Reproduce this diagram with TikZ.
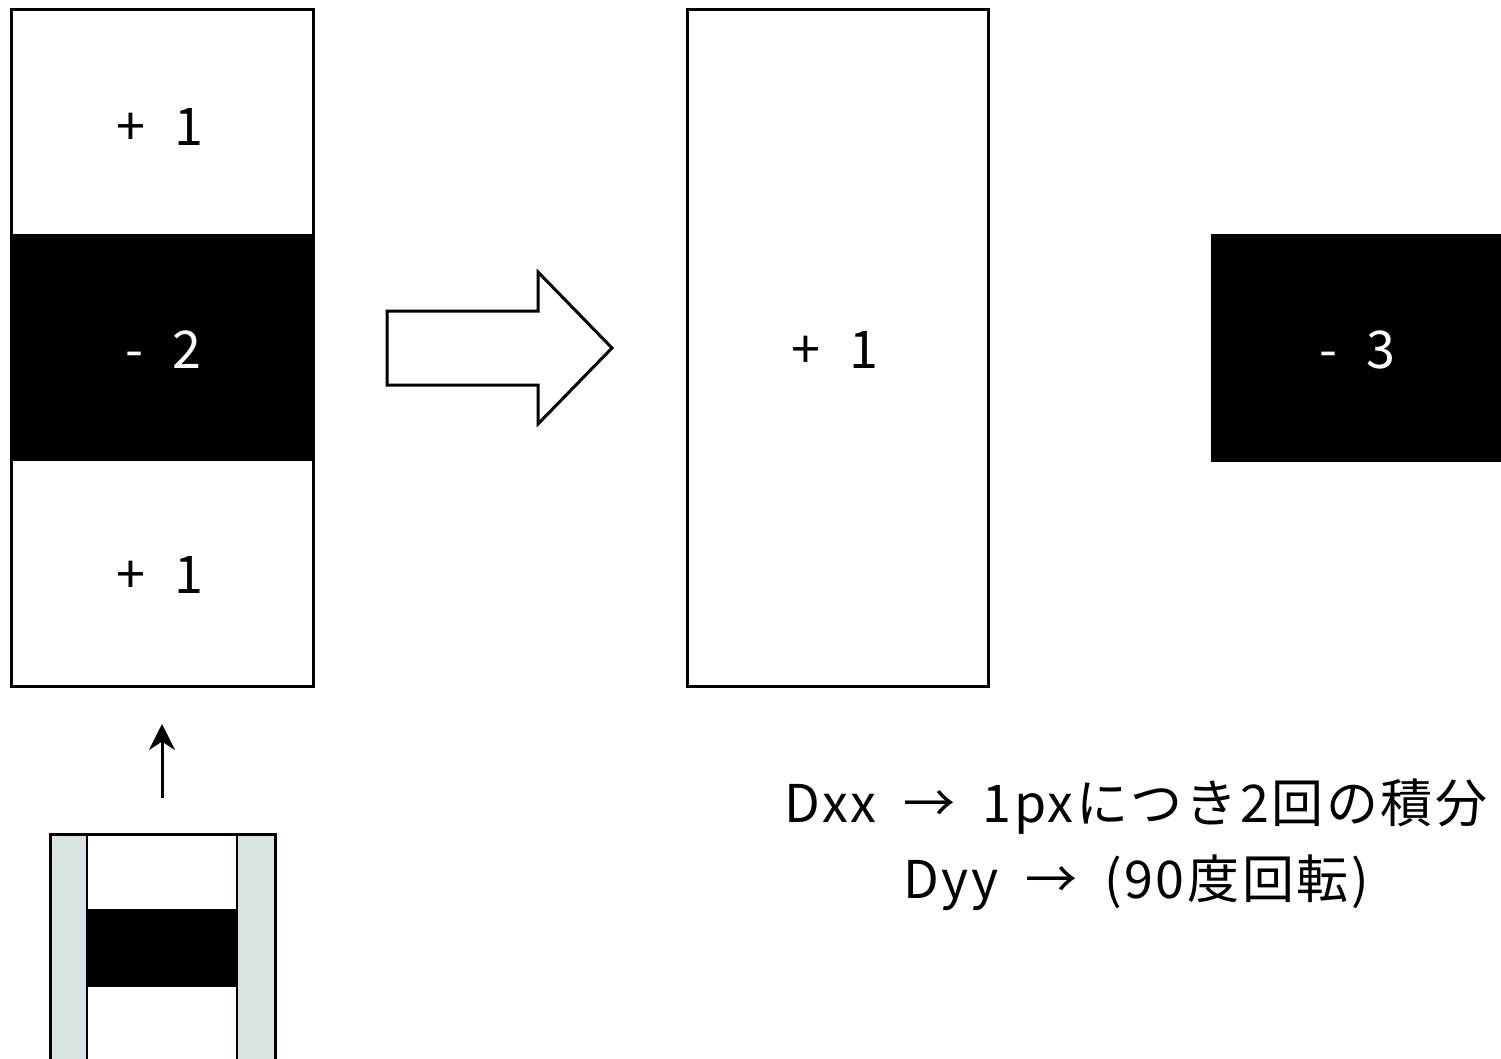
\documentclass[tikz,border=0pt]{standalone}
\usepackage{fontspec}
\setmainfont{Noto Sans CJK JP}
\newfontfamily\notefont[LetterSpace=5]{Noto Sans CJK JP}
\usetikzlibrary{arrows.meta}
\definecolor{strip}{HTML}{D8E4E4}
\newcommand{\gp}{\hspace{29pt}}
\newcommand{\ngp}{\hspace{27pt}}
\tikzset{
  box/.style={draw=black, line width=3pt},
  lbl/.style={font=\fontsize{52}{60}\selectfont, inner sep=0pt},
  note/.style={font=\notefont\fontsize{52}{77}\selectfont, inner sep=0pt, anchor=base},
}
\begin{document}
\begin{tikzpicture}[x=1pt,y=-1pt]
\useasboundingbox (0,0) rectangle (1501,1059);
% left column
\fill[black] (11,234) rectangle (313,461);
\draw[box] (11,10) rectangle (313,686);
\node[lbl] (t1) at (160,127) {+\gp1};
\node[lbl, text=white] (t2) at (163,350) {-\gp2};
\node[lbl] (t3) at (160,575) {+\gp1};
% big arrow
\draw[line width=3pt, line join=miter, fill=white] (387,311) -- (538,311) -- (538,272) -- (612,348) -- (538,424) -- (538,385) -- (387,385) -- cycle;
% middle box
\draw[box] (687,10) rectangle (988,686);
\node[lbl] (m1) at (835,350) {+\gp1};
% right black box
\fill[black] (1211,234) rectangle (1510,462);
\node[lbl, text=white] (r1) at (1357,350) {-\gp3};
% small arrow
\coordinate (sa) at (162,798);
\coordinate (sb) at (162,724);
\draw[line width=3pt, -{Stealth[length=26pt,width=26pt]}] (sa) -- (sb);
% bottom filter
\fill[strip] (50,834) rectangle (87,1070);
\fill[strip] (237,834) rectangle (275,1070);
\fill[black] (86,909) rectangle (238,987);
\draw[line width=2pt] (87,834) -- (87,1070) (237,834) -- (237,1070);
\draw[line width=3pt] (50,1070) -- (50,834) -- (275,834) -- (275,1070);
% notes
\node[note] (n1) at (1136,822) {Dxx\ngp→\ngp1pxにつき2回の積分};
\node[note] (n2) at (1136,898) {Dyy\ngp→\ngp(90度回転)};
\end{tikzpicture}
\end{document}
